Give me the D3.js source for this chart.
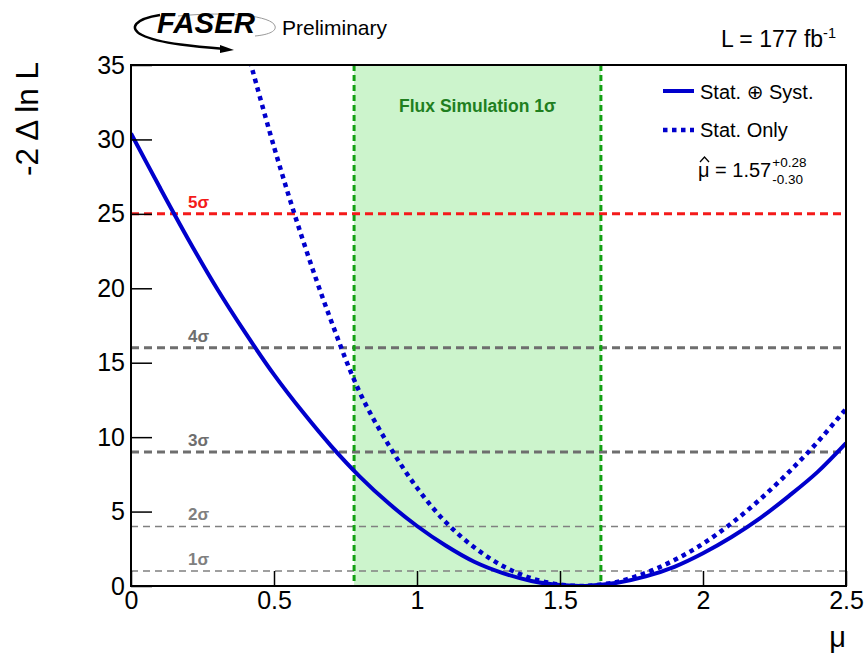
<!DOCTYPE html>
<meta charset="utf-8">
<style>
  body { margin: 0; background: #fff; }
  text { font-family: "Liberation Sans", Arial, Helvetica, "DejaVu Sans", sans-serif; fill: #000; }
</style>
<svg id="chart" width="868" height="656"></svg>
<script src="https://cdn.jsdelivr.net/npm/d3@7/dist/d3.min.js"></script>
<script>
// profile likelihood scans
var muFull = [0, 0.1, 0.2, 0.3, 0.4, 0.5, 0.6, 0.7, 0.8, 0.9, 1.0, 1.1, 1.2, 1.3, 1.4, 1.5, 1.57,
              1.6, 1.7, 1.8, 1.9, 2.0, 2.1, 2.2, 2.3, 2.4, 2.5];
var statSyst = [30.4, 26.8, 23.3, 20.0, 17.0, 14.2, 11.7, 9.4, 7.35, 5.57, 4.03, 2.72, 1.63, 0.87, 0.34, 0.06, 0,
                0.01, 0.22, 0.65, 1.29, 2.2, 3.29, 4.56, 6.04, 7.65, 9.6];
var muStat = [0.4, 0.5, 0.6, 0.7, 0.8, 0.9, 1.0, 1.1, 1.2, 1.3, 1.4, 1.5, 1.57,
              1.6, 1.7, 1.8, 1.9, 2.0, 2.1, 2.2, 2.3, 2.4, 2.5];
var statOnly = [36.4, 29.5, 23.3, 17.8, 13.0, 9.5, 6.6, 4.3, 2.6, 1.34, 0.52, 0.09, 0,
                0.01, 0.28, 0.88, 1.74, 2.84, 4.22, 5.83, 7.65, 9.66, 11.9];

var sigmaLevels = [1, 4, 9, 16, 25];
var sigmaLabels = ["1σ", "2σ", "3σ", "4σ", "5σ"];
var fluxBand = [0.78, 1.643];

var xMajor = [0, 0.5, 1, 1.5, 2, 2.5];
var yMajor = [0, 5, 10, 15, 20, 25, 30, 35];

var svg = d3.select("#chart");
var pL = 131, pR = 846, pT = 65, pB = 586;

var x = d3.scaleLinear().domain([0, 2.5]).range([pL, pR]);
var y = d3.scaleLinear().domain([0, 35]).range([pB, pT]);

svg.append("defs").append("clipPath").attr("id", "plot")
  .append("rect").attr("x", pL).attr("y", pT).attr("width", pR - pL).attr("height", pB - pT);

// flux band
svg.append("rect")
  .attr("x", x(fluxBand[0])).attr("y", pT)
  .attr("width", x(fluxBand[1]) - x(fluxBand[0])).attr("height", pB - pT)
  .attr("fill", "#ccf4cc");

// sigma lines
sigmaLevels.forEach(function(v, i) {
  var big = v >= 9;
  var col = v == 25 ? "#f41a1a" : (big ? "#6e6e6e" : "#808080");
  svg.append("line")
    .attr("x1", pL).attr("x2", pR).attr("y1", y(v)).attr("y2", y(v))
    .attr("stroke", col)
    .attr("stroke-width", big ? 3 : 1.5)
    .attr("stroke-dasharray", big ? "8,5" : "7,5");
  svg.append("text")
    .attr("x", 188).attr("y", y(v) - 6)
    .attr("font-size", 17).attr("font-weight", "bold")
    .style("fill", col)
    .text(sigmaLabels[i]);
});

fluxBand.forEach(function(m) {
  svg.append("line")
    .attr("x1", x(m)).attr("x2", x(m)).attr("y1", pT).attr("y2", pB)
    .attr("stroke", "#12a012").attr("stroke-width", 3).attr("stroke-dasharray", "6,4");
});

svg.append("text")
  .attr("x", (x(fluxBand[0]) + x(fluxBand[1])) / 2).attr("y", 112)
  .attr("text-anchor", "middle").attr("font-size", 17.5).attr("font-weight", "bold")
  .style("fill", "#1f7f1f")
  .text("Flux Simulation 1σ");

// curves
var line = d3.line()
  .x(function(d) { return x(d[0]); })
  .y(function(d) { return y(d[1]); })
  .curve(d3.curveCatmullRom.alpha(0.5));

var g = svg.append("g").attr("clip-path", "url(#plot)");
g.append("path")
  .datum(d3.zip(muStat, statOnly))
  .attr("d", line).attr("fill", "none")
  .attr("stroke", "#0000cc").attr("stroke-width", 4.5).attr("stroke-dasharray", "4.5,4.5");
g.append("path")
  .datum(d3.zip(muFull, statSyst))
  .attr("d", line).attr("fill", "none")
  .attr("stroke", "#0000cc").attr("stroke-width", 4);

// axes
var xMinor = d3.range(0, 2.501, 0.1).map(function(v) { return +v.toFixed(2); });
var yMinor = d3.range(0, 36, 1);

var gx = svg.append("g").attr("transform", "translate(0," + pB + ")");
gx.call(d3.axisBottom(x).tickValues(xMinor).tickSize(-8).tickFormat(""));
gx.call(d3.axisBottom(x).tickValues(xMajor).tickSize(-15).tickPadding(5)
  .tickFormat(function(d) { return d3.format("")(d); }));
gx.selectAll("text").attr("font-size", 25).attr("dy", "0.71em");

var gy = svg.append("g").attr("transform", "translate(" + pL + ",0)");
gy.call(d3.axisLeft(y).tickValues(yMinor).tickSize(-10).tickFormat(""));
gy.call(d3.axisLeft(y).tickValues(yMajor).tickSize(-21).tickPadding(6));
gy.selectAll("text").attr("font-size", 25);

svg.selectAll(".domain").remove();
svg.selectAll(".tick line").attr("stroke", "#000").attr("stroke-width", 1.5);
svg.selectAll(".tick text").style("font-family", "'Liberation Sans', Arial, sans-serif").style("fill", "#000");

svg.append("rect")
  .attr("x", pL).attr("y", pT).attr("width", pR - pL).attr("height", pB - pT)
  .attr("fill", "none").attr("stroke", "#000").attr("stroke-width", 2);

// axis titles
svg.append("text")
  .attr("transform", "translate(38,62) rotate(-90)")
  .attr("text-anchor", "end").attr("font-size", 31.5)
  .text("-2 Δ ln L");
svg.append("text")
  .attr("x", pR).attr("y", 647)
  .attr("text-anchor", "end").attr("font-size", 29)
  .text("μ");

// legend
svg.append("line").attr("x1", 663).attr("x2", 694).attr("y1", 91).attr("y2", 91)
  .attr("stroke", "#0000cc").attr("stroke-width", 4);
svg.append("text").attr("x", 700).attr("y", 99).attr("font-size", 20).text("Stat. ⊕ Syst.");
svg.append("line").attr("x1", 663).attr("x2", 694).attr("y1", 130).attr("y2", 130)
  .attr("stroke", "#0000cc").attr("stroke-width", 4.5).attr("stroke-dasharray", "4.5,4.5");
svg.append("text").attr("x", 700).attr("y", 137).attr("font-size", 20).text("Stat. Only");

var muHat = svg.append("text").attr("x", 698).attr("y", 177).attr("font-size", 20).text("μ = 1.57");
// hat over mu
svg.append("path").attr("d", "M700,162 L704.5,157 L709,162")
  .attr("fill", "none").attr("stroke", "#000").attr("stroke-width", 1.3);
var w = muHat.node().getComputedTextLength();
svg.append("text").attr("x", 698 + w + 1).attr("y", 167).attr("font-size", 13.5).text("+0.28");
svg.append("text").attr("x", 698 + w + 1).attr("y", 184).attr("font-size", 13.5).text("-0.30");

// header
svg.append("text").attr("x", 836).attr("y", 47).attr("text-anchor", "end").attr("font-size", 23)
  .text("L = 177 fb").append("tspan").attr("dy", -9).attr("font-size", 14.5).text("-1");
svg.append("text").attr("x", 282).attr("y", 35).attr("font-size", 21).text("Preliminary");

// FASER logo
var logo = svg.append("g");
logo.append("path")
  .attr("d", "M178,16 C230,11 272,16 275,26 C277,32 266,35 255,36")
  .attr("fill", "none").attr("stroke", "#999").attr("stroke-width", 1);
logo.append("path")
  .attr("d", "M160,15 C135,19 128,28 142,35 C160,44 200,47 226,49")
  .attr("fill", "none").attr("stroke", "#000").attr("stroke-width", 2.5);
logo.append("path").attr("d", "M220,45 L234,50 L220,53 Z").attr("fill", "#000");
logo.append("text")
  .attr("x", 157).attr("y", 33)
  .attr("font-size", 29).attr("font-weight", "bold").attr("font-style", "italic")
  .attr("textLength", 98).attr("lengthAdjust", "spacingAndGlyphs")
  .text("FASER");
</script>
